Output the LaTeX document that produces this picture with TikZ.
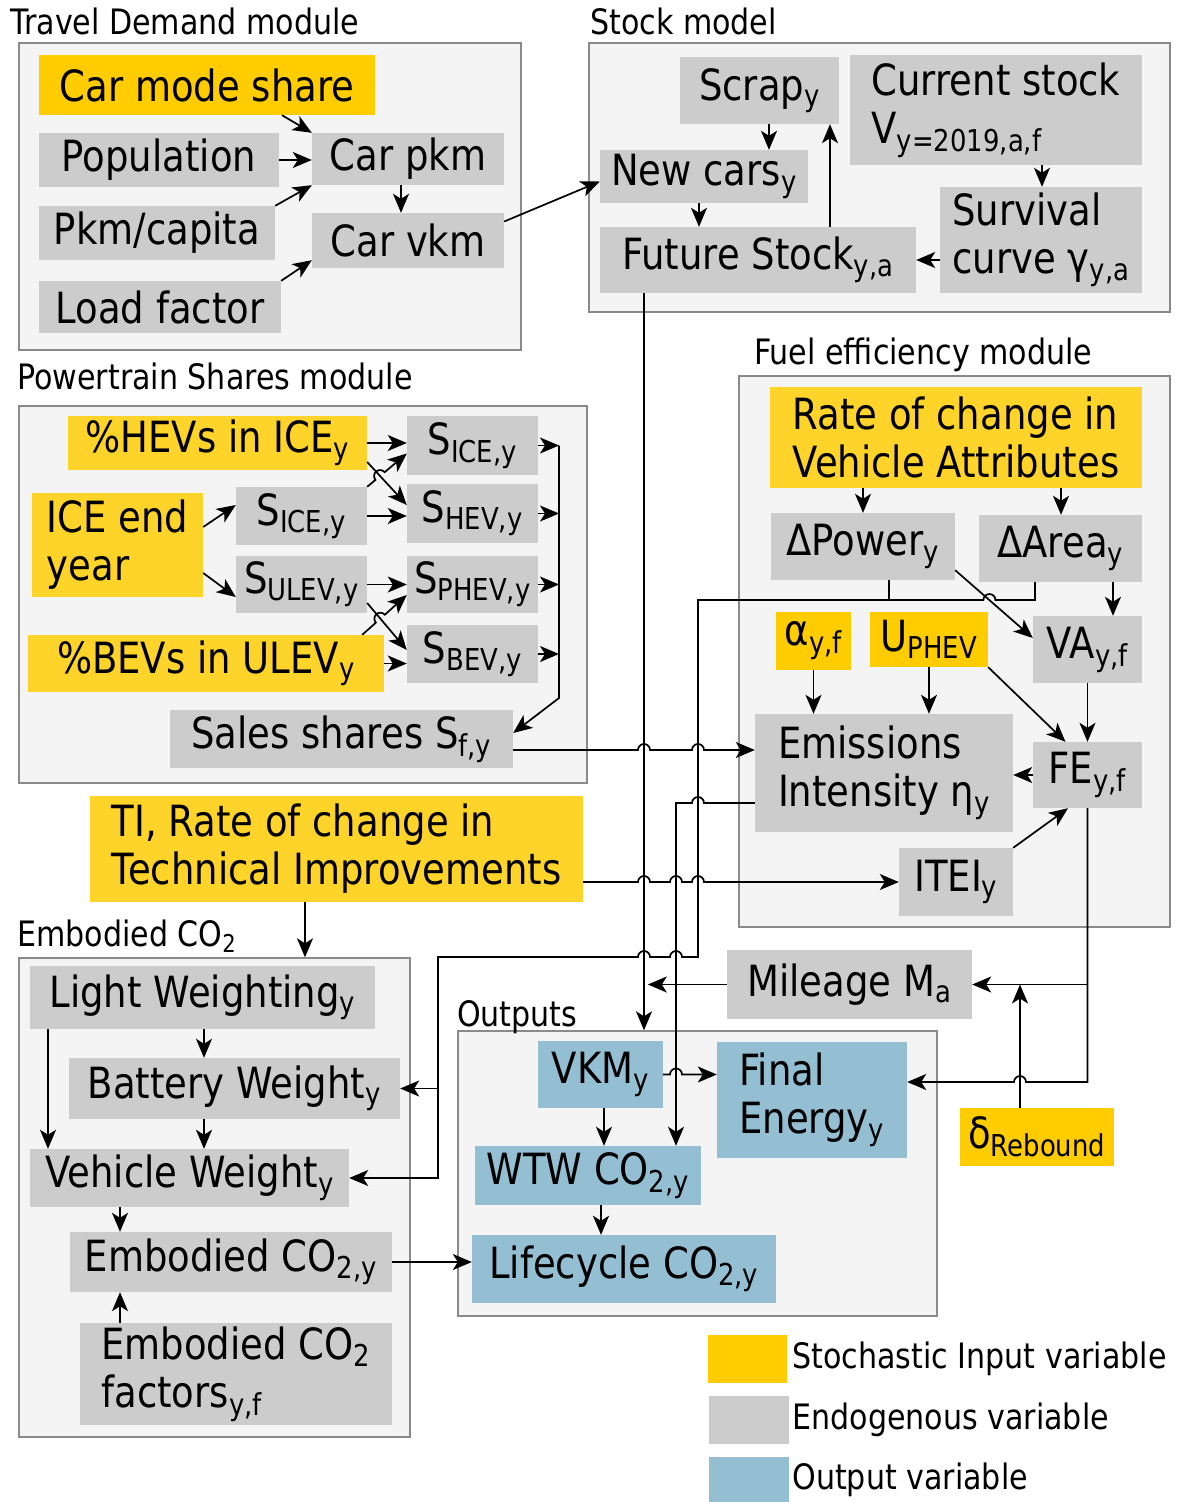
\RequirePackage{fix-cm}
\documentclass[tikz,border=0pt]{standalone}
\usepackage{fontspec}
\setmainfont{DejaVu Sans}[FakeStretch=0.86]
\usetikzlibrary{positioning,arrows.meta}

\definecolor{stochA}{HTML}{FFCC00}
\definecolor{stochB}{HTML}{FFD42A}
\definecolor{endocol}{HTML}{CCCCCC}
\definecolor{outcol}{HTML}{94BED2}
\definecolor{modfill}{HTML}{F4F4F4}
\definecolor{modline}{HTML}{8A8A8A}

\newcommand{\sbs}[1]{\textsubscript{#1}}

\begin{document}
\begin{tikzpicture}[x=1pt, y=-1pt,
    boxsize/.style 2 args={minimum width=#1pt, minimum height=#2pt},
    module/.style={draw=modline, fill=modfill, line width=1.4pt, inner sep=0pt},
    modlabel/.style={anchor=base west, inner sep=0pt, font=\fontsize{35}{40}\selectfont},
    var/.style={inner sep=0pt, align=left, font=\fontsize{43}{48}\selectfont},
    stoch/.style={var, fill=stochA},
    stochlt/.style={var, fill=stochB},
    endo/.style={var, fill=endocol},
    outv/.style={var, fill=outcol},
    flow/.style={line width=1.7pt, -{Stealth[length=19pt, width=16pt, inset=5pt]}},
    bus/.style={line width=1.7pt}]

    \useasboundingbox (0,0) rectangle (1179,1502);

    % module frames
    \node[module, boxsize={502}{307}] (tdbox) at (270,196.5) {};
    \node[module, boxsize={581}{269}] (stockbox) at (879.5,177.5) {};
    \node[module, boxsize={568}{377}] (ptbox) at (303,594.5) {};
    \node[module, boxsize={431}{551}] (febox) at (954.5,651.5) {};
    \node[module, boxsize={391}{479}] (embbox) at (214.5,1197.5) {};
    \node[module, boxsize={479}{285}] (outbox) at (697.5,1173.5) {};

    \node[modlabel] (tdtitle) at (10,34) {Travel Demand module};
    \node[modlabel] (sttitle) at (590,34) {Stock model};
    \node[modlabel] (pttitle) at (17,389) {Powertrain Shares module};
    \node[modlabel] (fetitle) at (754,364) {Fuel efficiency module};
    \node[modlabel] (emtitle) at (17,946) {Embodied CO\sbs{2}};
    \node[modlabel] (outitle) at (457,1026) {Outputs};

    % travel demand
    \node[stoch, boxsize={336}{60}] (modeshare) at (207,85) {Car mode share};
    \node[endo, boxsize={240}{54}] (popul) at (159,160) {Population};
    \node[endo, boxsize={236}{54}] (pkmcap) at (157,233) {Pkm/capita};
    \node[endo, boxsize={242}{52}] (loadf) at (160,307) {Load factor};
    \node[endo, boxsize={192}{52}] (carpkm) at (408,159) {Car pkm};
    \node[endo, boxsize={192}{55}] (carvkm) at (408,240.5) {Car vkm};

    % stock model
    \node[endo, boxsize={159}{67}] (scrap) at (759.5,90.5) {Scrap\sbs{y}};
    \node[endo, boxsize={292}{110}] (curstock) at (996,110) {Current stock\\V\sbs{y=2019,a,f}};
    \node[endo, boxsize={208}{53}] (newcars) at (704,176.5) {New cars\sbs{y}};
    \node[endo, boxsize={316}{66}] (futstock) at (758,260) {Future Stock\sbs{y,a}};
    \node[endo, boxsize={202}{106}] (survival) at (1041,240) {Survival\\curve γ\sbs{y,a}};

    % powertrain shares
    \node[stochlt, boxsize={299}{54}] (hevice) at (217.5,443) {\%HEVs in ICE\sbs{y}};
    \node[stochlt, boxsize={171}{104}] (iceend) at (117.5,545) {ICE end\\year};
    \node[endo, boxsize={131}{58}] (sicea) at (301.5,516) {S\sbs{ICE,y}};
    \node[endo, boxsize={131}{57}] (sulev) at (301.5,584.5) {S\sbs{ULEV,y}};
    \node[stochlt, boxsize={356}{57}] (bevulev) at (206,663.5) {\%BEVs in ULEV\sbs{y}};
    \node[endo, boxsize={131}{59}] (siceb) at (472.5,445.5) {S\sbs{ICE,y}};
    \node[endo, boxsize={131}{59}] (shev) at (472.5,513.5) {S\sbs{HEV,y}};
    \node[endo, boxsize={131}{57}] (sphev) at (472.5,584.5) {S\sbs{PHEV,y}};
    \node[endo, boxsize={131}{58}] (sbev) at (472.5,654) {S\sbs{BEV,y}};
    \node[endo, boxsize={343}{58}] (sales) at (341.5,739) {Sales shares S\sbs{f,y}};

    % fuel efficiency
    \node[stochlt, boxsize={372}{101}] (rateva) at (956,437.5) {Rate of change in\\Vehicle Attributes};
    \node[endo, boxsize={184}{67}] (dpower) at (863,546.5) {ΔPower\sbs{y}};
    \node[endo, boxsize={163}{67}] (darea) at (1060.5,548.5) {ΔArea\sbs{y}};
    \node[stoch, boxsize={75}{58}] (alpha) at (813.5,641) {α\sbs{y,f}};
    \node[stoch, boxsize={118}{55}] (uphev) at (929,639.5) {U\sbs{PHEV}};
    \node[endo, boxsize={109}{67}] (va) at (1087.5,649.5) {VA\sbs{y,f}};
    \node[endo, boxsize={258}{118}] (emis) at (884,773) {Emissions\\Intensity η\sbs{y}};
    \node[endo, boxsize={109}{66}] (fe) at (1087.5,775) {FE\sbs{y,f}};
    \node[endo, boxsize={114}{68}] (itei) at (956,882) {ITEI\sbs{y}};

    \node[stochlt, boxsize={493}{106}] (ti) at (336.5,849) {TI, Rate of change in\\Technical Improvements};
    \node[endo, boxsize={245}{69}] (mileage) at (849.5,984.5) {Mileage M\sbs{a}};
    \node[stoch, boxsize={154}{58}] (rebound) at (1037,1137) {δ\sbs{Rebound}};

    % embodied CO2
    \node[endo, boxsize={345}{63}] (lightw) at (202.5,997.5) {Light Weighting\sbs{y}};
    \node[endo, boxsize={331}{61}] (battw) at (234.5,1088.5) {Battery Weight\sbs{y}};
    \node[endo, boxsize={319}{58}] (vehw) at (189.5,1178) {Vehicle Weight\sbs{y}};
    \node[endo, boxsize={322}{60}] (embco) at (231,1262) {Embodied CO\sbs{2,y}};
    \node[endo, boxsize={312}{102}] (embfac) at (236,1374) {Embodied CO\sbs{2}\\factors\sbs{y,f}};

    % outputs
    \node[outv, boxsize={125}{67}] (vkm) at (600.5,1074.5) {VKM\sbs{y}};
    \node[outv, boxsize={190}{116}] (finen) at (812,1100) {Final\\Energy\sbs{y}};
    \node[outv, boxsize={226}{59}] (wtw) at (588,1175.5) {WTW CO\sbs{2,y}};
    \node[outv, boxsize={304}{68}] (lifec) at (624,1269) {Lifecycle CO\sbs{2,y}};

    % legend
    \node[fill=stochA, boxsize={79}{48}] (legst) at (747.5,1359) {};
    \node[fill=endocol, boxsize={80}{48}] (legen) at (749,1420) {};
    \node[fill=outcol, boxsize={80}{45}] (legou) at (749,1479.5) {};
    \node[modlabel, anchor=west, right=5pt of legst] (legsttext) {Stochastic Input variable};
    \node[modlabel, anchor=west, right=3pt of legen] (legentext) {Endogenous variable};
    \node[modlabel, anchor=west, right=3pt of legou] (legoutext) {Output variable};

    % travel demand links
    \draw[flow] ([xshift=75pt]modeshare.south) -- (carpkm.north west);
    \draw[flow] (popul.east) -- (popul.east -| carpkm.west);
    \draw[flow] (pkmcap.north east) -- (carpkm.south west);
    \draw[flow] (loadf.north east) -- ([yshift=8pt]carvkm.south west);
    \draw[flow] ([xshift=-7pt]carpkm.south) -- ([xshift=-7pt]carvkm.north);
    \draw[flow] ([yshift=19pt]carvkm.east) -- ([yshift=-5pt]newcars.west);

    % stock model links
    \draw[flow] ([xshift=9.5pt]scrap.south) -- ([xshift=65pt]newcars.north);
    \draw[flow] ([xshift=-5pt]newcars.south) -- ([xshift=-59pt]futstock.north);
    \draw[flow] ([xshift=72pt]futstock.north) -- ([xshift=70.5pt]scrap.south);
    \draw[flow] ([xshift=46pt]curstock.south) -- ([xshift=1pt]survival.north);
    \draw[flow] ([yshift=-20pt]survival.west) -- (futstock.east);

    % powertrain links
    \draw[flow] (hevice.east) -- (hevice.east -| siceb.west);
    \draw[flow] ([yshift=-19pt]hevice.east) -- ([yshift=8.5pt]shev.west);
    \draw[flow] (sicea.north east) -- (375.47,479.9) arc[start angle=220, end angle=40, radius=6pt]
        -- ([yshift=-8pt]siceb.west);
    \draw[flow] (sicea.east) -- (sicea.east -| shev.west);
    \draw[flow] ([yshift=18pt]iceend.east) -- ([yshift=11pt]sicea.west);
    \draw[flow] ([yshift=-28pt]iceend.east) -- ([yshift=-12.5pt]sulev.west);
    \draw[flow] (sulev.east) -- (sulev.east -| sphev.west);
    \draw[flow] ([yshift=-18.5pt]sulev.east) -- ([yshift=4pt]sbev.west);
    \draw[flow] ([xshift=-22pt]bevulev.north east) -- (375.87,622.68) arc[start angle=221.63, end angle=41.63, radius=6pt]
        -- ([yshift=-10.5pt]sphev.west);
    \draw[flow] (bevulev.east) -- (bevulev.east -| sbev.west);
    \coordinate (sbus) at (559,698);
    \foreach \s in {siceb,shev,sphev,sbev}
        \draw[flow] (\s.east) -- (\s.east -| sbus);
    \draw[flow] (siceb.east -| sbus) -- (sbus) -- ([yshift=6pt]sales.east);

    % fuel efficiency links
    \draw[flow] ([xshift=-93pt]rateva.south) -- (dpower.north);
    \draw[flow] ([xshift=105pt]rateva.south) -- ([xshift=0.5pt]darea.north);
    \draw[flow] ([xshift=52.5pt]darea.south) -- ([xshift=25.5pt]va.north);
    \draw[flow] ([yshift=10pt]dpower.south east) -- ([yshift=11.5pt]va.west);
    \draw[flow] (alpha.south) -- (alpha.south |- emis.north);
    \draw[flow] (uphev.south) -- (uphev.south |- emis.north);
    \draw[flow] (uphev.south east) -- ([xshift=-22pt]fe.north);
    \draw[flow] (va.south) -- (fe.north);
    \draw[flow] (fe.west) -- (fe.west -| emis.east);
    \draw[flow] (itei.north east) -- ([xshift=-19.5pt]fe.south);

    % long links across modules
    \draw[flow] ([xshift=-114pt]futstock.south) -- ([xshift=-53.5pt]outbox.north);
    \draw[flow] (mileage.west) -- ([xshift=-79pt]mileage.west);
    \draw[flow] ([yshift=-11pt]sales.east) -- (638,750) arc[start angle=180, end angle=0, radius=6pt]
        -- (692,750) arc[start angle=180, end angle=0, radius=6pt] -- ([yshift=23pt]emis.west);
    \draw[flow] ([yshift=-30pt]emis.west) -- (704,803) arc[start angle=0, end angle=180, radius=6pt]
        -- (676,803) -- ([xshift=88pt]wtw.north);
    \draw[flow] ([yshift=-33pt]ti.east) -- (638,882) arc[start angle=180, end angle=0, radius=6pt]
        -- (670,882) arc[start angle=180, end angle=0, radius=6pt]
        -- (692,882) arc[start angle=180, end angle=0, radius=6pt] -- (itei.west);
    \draw[bus] ([xshift=26pt]dpower.south) -- (889,600);
    \coordinate (wlow) at (438,957);
    \draw[flow] ([xshift=-25.5pt]darea.south) -- (1035,600) -- (995.4,600) arc[start angle=0, end angle=180, radius=6pt]
        -- (698,600) -- (698,957) -- (682,957) arc[start angle=0, end angle=180, radius=6pt]
        -- (650,957) arc[start angle=0, end angle=180, radius=6pt] -- (wlow) |- (vehw.east);
    \draw[flow] (battw.east -| wlow) -- (battw.east);
    \draw[flow] ([xshift=-31.5pt]ti.south) -- ([xshift=90.5pt]embbox.north);

    % fuel efficiency to energy and mileage
    \draw[flow] (fe.south) -- (1087.5,1082) -- (1026,1082) arc[start angle=0, end angle=180, radius=6pt]
        -- ([yshift=18pt]finen.east);
    \draw[flow] (fe.south |- mileage.east) -- (mileage.east);
    \coordinate (rb) at ([xshift=-17pt]rebound.north);
    \draw[flow] (rb) -- (rb |- mileage.east);

    % embodied links
    \draw[flow] ([xshift=1.5pt]lightw.south) -- ([xshift=-30.5pt]battw.north);
    \draw[flow] ([xshift=-154.5pt]lightw.south) -- ([xshift=-141.5pt]vehw.north);
    \draw[flow] ([xshift=-30.5pt]battw.south) -- ([xshift=14.5pt]vehw.north);
    \draw[flow] ([xshift=-69.5pt]vehw.south) -- ([xshift=-111pt]embco.north);
    \draw[flow] ([xshift=-116pt]embfac.north) -- ([xshift=-111pt]embco.south);
    \draw[flow] (embco.east) -- (embco.east -| lifec.west);

    % outputs links
    \draw[flow] (vkm.east) -- (670,1074.5) arc[start angle=180, end angle=0, radius=6pt] -- (vkm.east -| finen.west);
    \draw[flow] ([xshift=3.5pt]vkm.south) -- ([xshift=16pt]wtw.north);
    \draw[flow] ([xshift=13pt]wtw.south) -- ([xshift=-23pt]lifec.north);
\end{tikzpicture}
\end{document}
